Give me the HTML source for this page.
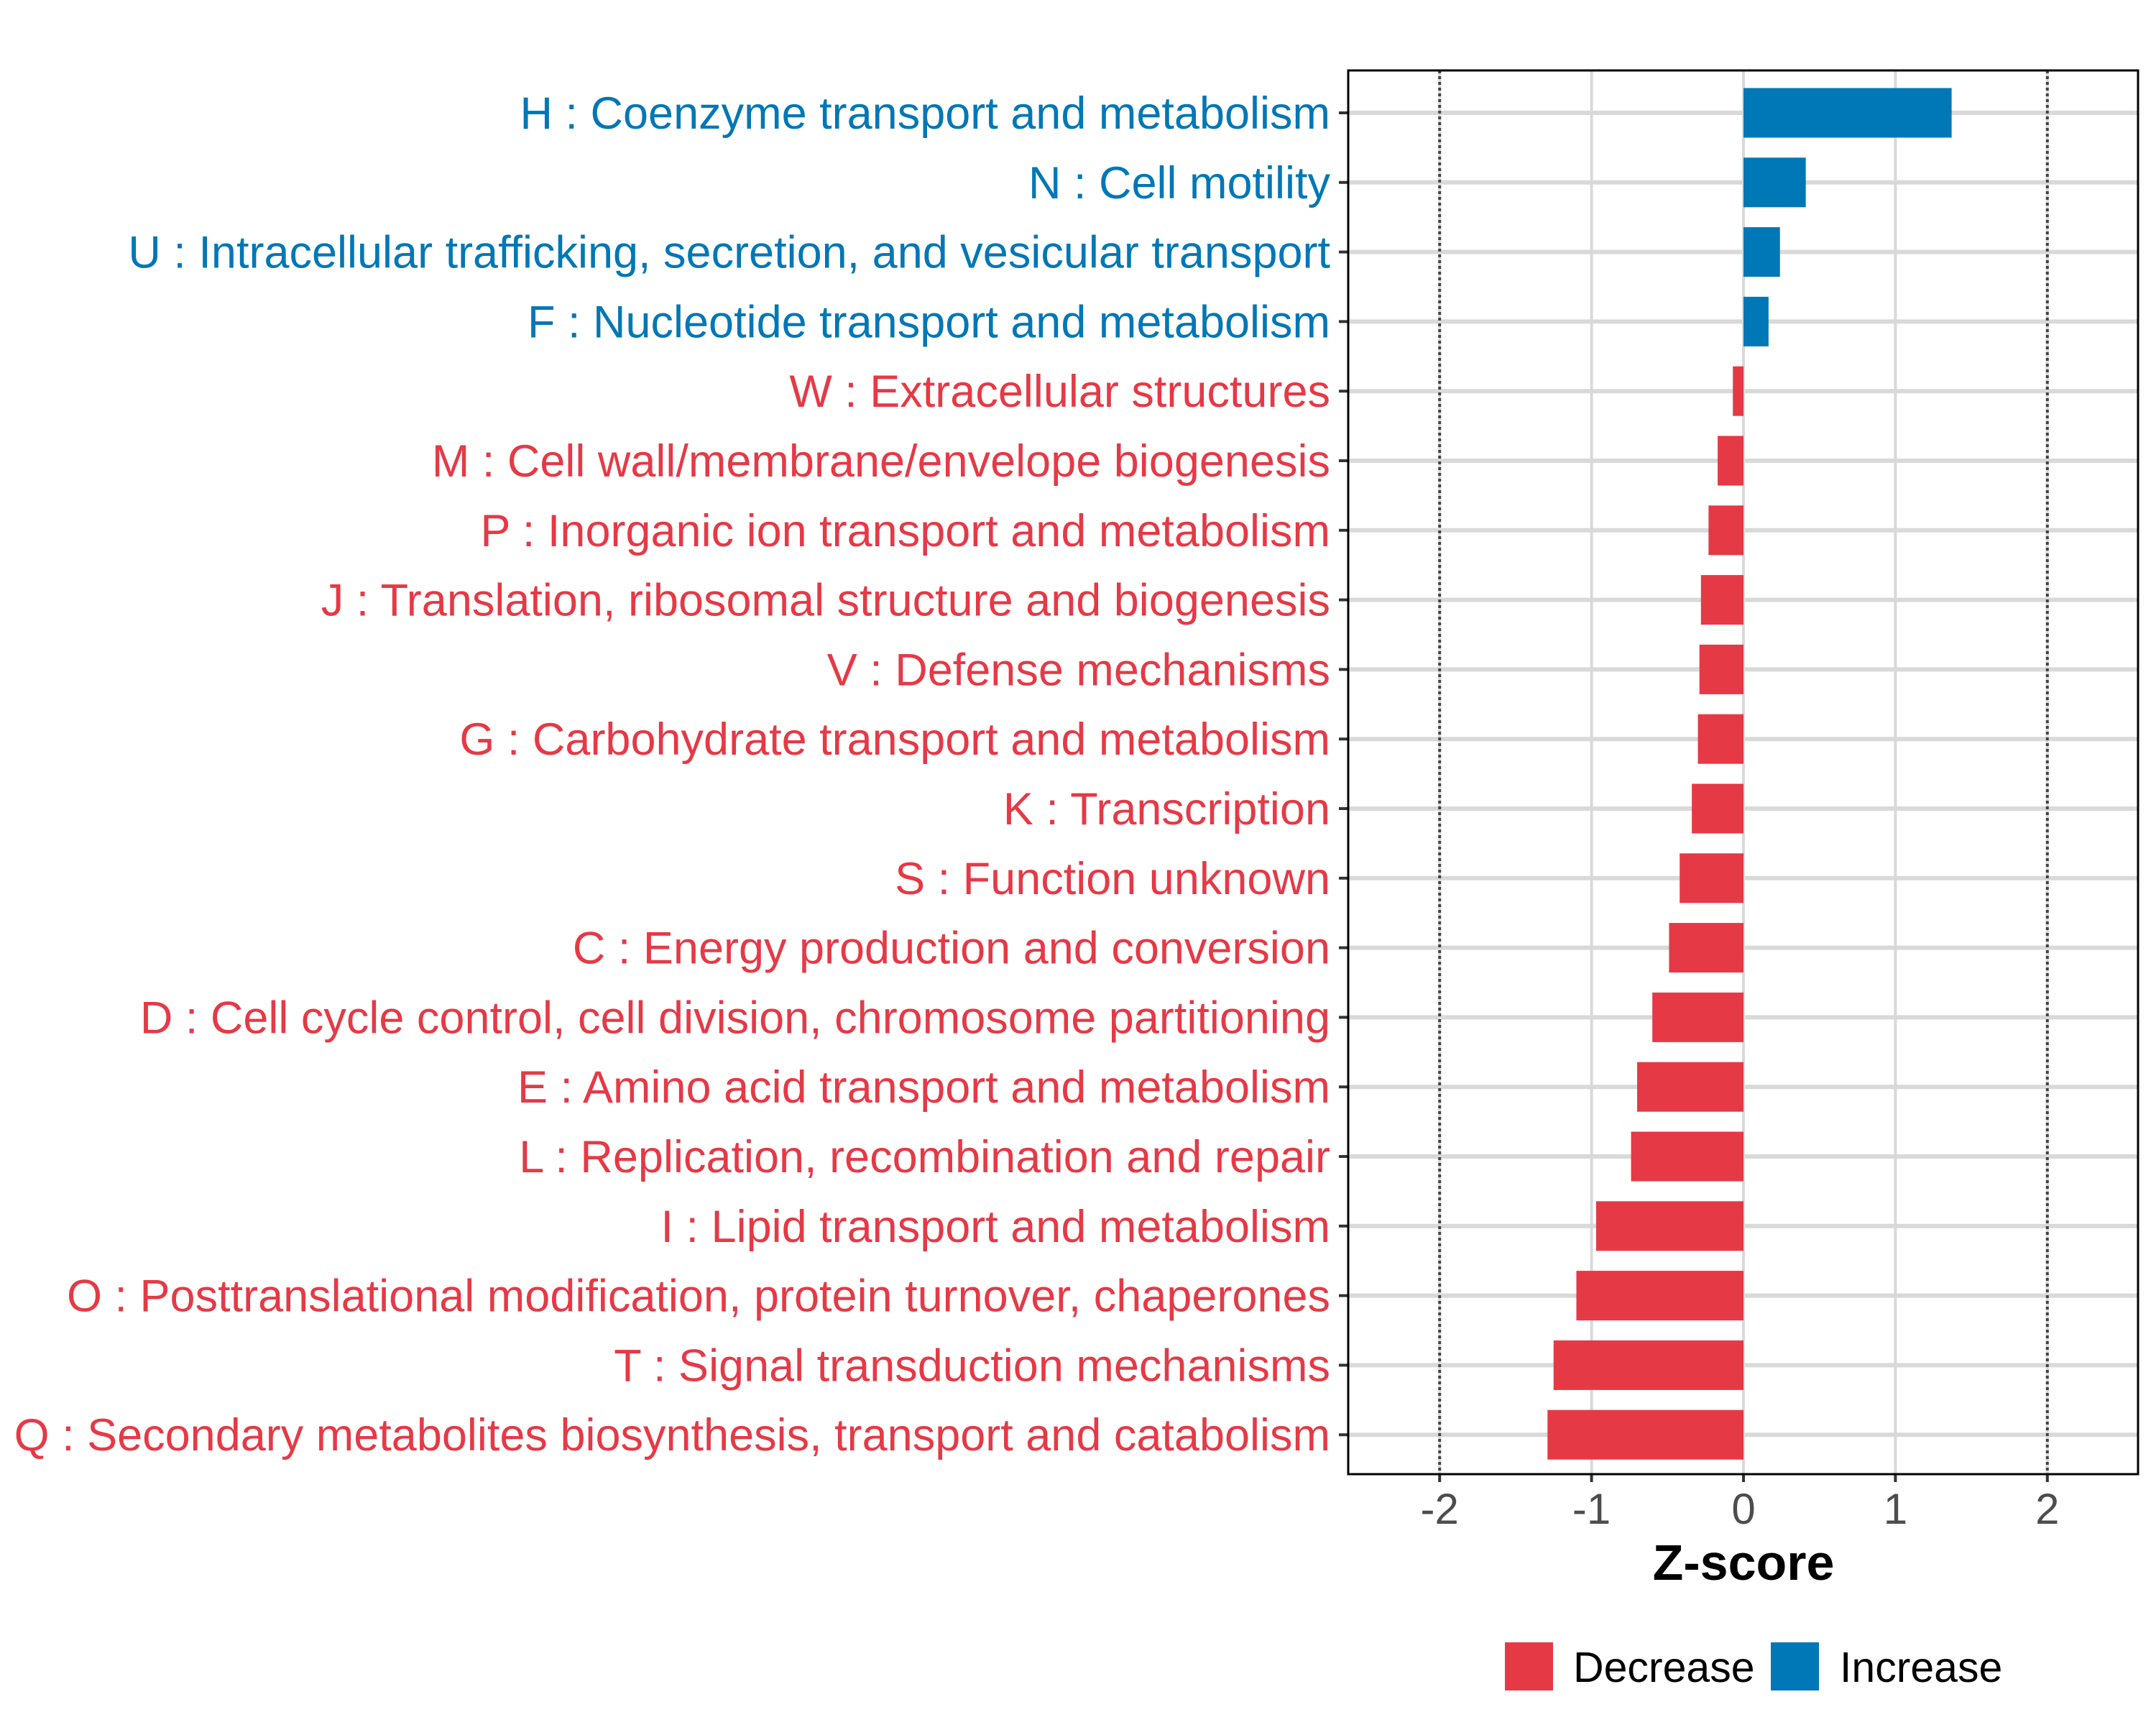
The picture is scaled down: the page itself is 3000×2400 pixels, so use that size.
<!DOCTYPE html>
<html><head><meta charset="utf-8"><style>
html,body{margin:0;padding:0;background:#fff;}
svg{display:block;font-family:"Liberation Sans",sans-serif;}
</style></head><body>
<svg id="chart" width="3000" height="2400" viewBox="0 0 3000 2400" xmlns="http://www.w3.org/2000/svg">
<rect x="0" y="0" width="3000" height="2400" fill="#fff"/>
<g id="grid"></g><g id="bars"></g><g id="labels"></g><g id="xaxis"></g>
<rect x="1876" y="98" width="1099" height="1953" fill="none" stroke="#000" stroke-width="3"/>
<text x="2426" y="2198" text-anchor="middle" font-size="70" font-weight="bold" fill="#000">Z-score</text>
<g>
<rect x="2094" y="2285" width="67" height="67" fill="#E63946"/>
<text x="2189" y="2340" font-size="59" fill="#000">Decrease</text>
<rect x="2464" y="2285" width="67" height="67" fill="#0077B6"/>
<text x="2560" y="2340" font-size="59" fill="#000">Increase</text>
</g>
</svg>
<script>
const categories = ["H : Coenzyme transport and metabolism","N : Cell motility","U : Intracellular trafficking, secretion, and vesicular transport","F : Nucleotide transport and metabolism","W : Extracellular structures","M : Cell wall/membrane/envelope biogenesis","P : Inorganic ion transport and metabolism","J : Translation, ribosomal structure and biogenesis","V : Defense mechanisms","G : Carbohydrate transport and metabolism","K : Transcription","S : Function unknown","C : Energy production and conversion","D : Cell cycle control, cell division, chromosome partitioning","E : Amino acid transport and metabolism","L : Replication, recombination and repair","I : Lipid transport and metabolism","O : Posttranslational modification, protein turnover, chaperones","T : Signal transduction mechanisms","Q : Secondary metabolites biosynthesis, transport and catabolism"];
const zscores = [1.37,0.41,0.24,0.165,-0.07,-0.17,-0.23,-0.28,-0.29,-0.30,-0.34,-0.42,-0.49,-0.60,-0.70,-0.74,-0.97,-1.10,-1.25,-1.29];
const xTicks = [-2,-1,0,1,2];
const xTickLabels = ["-2","-1","0","1","2"];
const thresholds = [-2,2];

const NS="http://www.w3.org/2000/svg";
const X0=2426, UNIT=211.4, Y0=157, STEP=96.8, BARH=69;
const PL=1876, PR=2975, PT=98, PB=2051;
function xs(v){return X0+v*UNIT;}
function ys(i){return Y0+i*STEP;}
function mk(tag,attrs,parent){const e=document.createElementNS(NS,tag);for(const k in attrs)e.setAttribute(k,attrs[k]);parent.appendChild(e);return e;}
const grid=document.getElementById('grid'),bars=document.getElementById('bars'),labels=document.getElementById('labels'),xaxis=document.getElementById('xaxis');
xTicks.forEach((t,i)=>{
  const l=mk('line',{x1:xs(t),x2:xs(t),y1:PT,y2:PB,stroke:'#d9d9d9','stroke-width':4},grid);
  
  
  const tk=mk('line',{x1:xs(t),x2:xs(t),y1:PB,y2:PB+11,stroke:'#333','stroke-width':4},xaxis);
  
  
  const tx=mk('text',{x:xs(t),y:2120,'text-anchor':'middle','font-size':60,fill:'#4d4d4d'},xaxis);
  tx.textContent=xTickLabels[i];
  
  
});
categories.forEach((c,i)=>{
  const l=mk('line',{x1:PL,x2:PR,y1:ys(i),y2:ys(i),stroke:'#d9d9d9','stroke-width':6},grid);
  
  
});
thresholds.forEach(t=>{
  const l=mk('line',{x1:xs(t),x2:xs(t),y1:PT,y2:PB,stroke:'#444','stroke-width':4,'stroke-dasharray':'4 4'},grid);
  
  
});
categories.forEach((c,i)=>{
  const v=zscores[i];
  const col=v>=0?'#0077B6':'#E63946';
  const x1=Math.min(xs(0),xs(v)),w=Math.abs(xs(v)-xs(0));
  const r=mk('rect',{x:x1,y:ys(i)-BARH/2,width:w,height:BARH,fill:col},bars);
  
  
  const tk=mk('line',{x1:1863,x2:PL,y1:ys(i),y2:ys(i),stroke:'#333','stroke-width':4},labels);
  
  
  const t=mk('text',{x:1851,y:ys(i)+22,'text-anchor':'end','font-size':63,fill:col},labels);
  t.textContent=c;
  
  
});
</script>
</body></html>
